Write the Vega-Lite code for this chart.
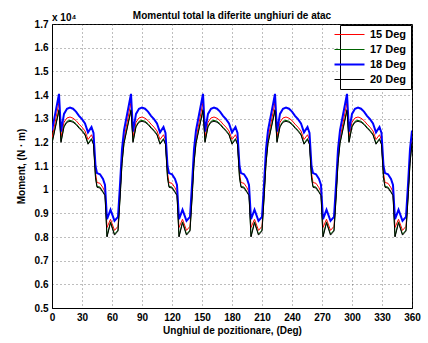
{
  "$schema": "https://vega.github.io/schema/vega-lite/v6.json",
  "width": 360,
  "height": 284,
  "autosize": "none",
  "padding": {"left": 52, "top": 24, "right": 16, "bottom": 35},
  "background": "white",
  "config": {
    "font": "Liberation Sans",
    "view": {"stroke": "black", "strokeWidth": 1},
    "axis": {"labelOverlap": false}
  },
  "title": {
    "text": "Momentul total la diferite unghiuri de atac",
    "fontSize": 10,
    "fontWeight": "bold",
    "font": "Liberation Sans",
    "color": "black",
    "anchor": "middle",
    "offset": -8
  },
  "datasets": {
    "m": [
      {"a": 0, "15 Deg": 12150, "17 Deg": 11990, "18 Deg": 12500, "20 Deg": 11950},
      {"a": 7, "15 Deg": 13700, "17 Deg": 13390, "18 Deg": 14050, "20 Deg": 13350},
      {"a": 9, "15 Deg": 12220, "17 Deg": 12040, "18 Deg": 12450, "20 Deg": 12000},
      {"a": 12, "15 Deg": 12850, "17 Deg": 12690, "18 Deg": 13200, "20 Deg": 12650},
      {"a": 15, "15 Deg": 13030, "17 Deg": 12890, "18 Deg": 13420, "20 Deg": 12850},
      {"a": 18, "15 Deg": 13070, "17 Deg": 12930, "18 Deg": 13470, "20 Deg": 12890},
      {"a": 21, "15 Deg": 13020, "17 Deg": 12890, "18 Deg": 13420, "20 Deg": 12850},
      {"a": 24, "15 Deg": 12920, "17 Deg": 12790, "18 Deg": 13300, "20 Deg": 12750},
      {"a": 27, "15 Deg": 12770, "17 Deg": 12640, "18 Deg": 13120, "20 Deg": 12600},
      {"a": 30, "15 Deg": 12640, "17 Deg": 12510, "18 Deg": 12980, "20 Deg": 12470},
      {"a": 33, "15 Deg": 12480, "17 Deg": 12350, "18 Deg": 12800, "20 Deg": 12310},
      {"a": 36, "15 Deg": 12120, "17 Deg": 11960, "18 Deg": 12420, "20 Deg": 11920},
      {"a": 39.5, "15 Deg": 12320, "17 Deg": 12160, "18 Deg": 12650, "20 Deg": 12120},
      {"a": 41.5, "15 Deg": 12100, "17 Deg": 11940, "18 Deg": 12400, "20 Deg": 11900},
      {"a": 43.5, "15 Deg": 10700, "17 Deg": 10540, "18 Deg": 11000, "20 Deg": 10500},
      {"a": 45, "15 Deg": 10300, "17 Deg": 10140, "18 Deg": 10700, "20 Deg": 10100},
      {"a": 48, "15 Deg": 10270, "17 Deg": 10110, "18 Deg": 10650, "20 Deg": 10070},
      {"a": 51, "15 Deg": 10080, "17 Deg": 9920, "18 Deg": 10450, "20 Deg": 9880},
      {"a": 53, "15 Deg": 9900, "17 Deg": 9790, "18 Deg": 10200, "20 Deg": 9750},
      {"a": 55, "15 Deg": 8400, "17 Deg": 8040, "18 Deg": 8750, "20 Deg": 8000},
      {"a": 58.5, "15 Deg": 8750, "17 Deg": 8640, "18 Deg": 9150, "20 Deg": 8600},
      {"a": 62.5, "15 Deg": 8280, "17 Deg": 8120, "18 Deg": 8680, "20 Deg": 8080},
      {"a": 66, "15 Deg": 8450, "17 Deg": 8290, "18 Deg": 8850, "20 Deg": 8250},
      {"a": 68, "15 Deg": 9800, "17 Deg": 9640, "18 Deg": 10200, "20 Deg": 9600},
      {"a": 70, "15 Deg": 11300, "17 Deg": 11140, "18 Deg": 11700, "20 Deg": 11100},

      {"a": 72, "15 Deg": 12150, "17 Deg": 11990, "18 Deg": 12500, "20 Deg": 11950},
      {"a": 79, "15 Deg": 13700, "17 Deg": 13390, "18 Deg": 14050, "20 Deg": 13350},
      {"a": 81, "15 Deg": 12220, "17 Deg": 12040, "18 Deg": 12450, "20 Deg": 12000},
      {"a": 84, "15 Deg": 12850, "17 Deg": 12690, "18 Deg": 13200, "20 Deg": 12650},
      {"a": 87, "15 Deg": 13030, "17 Deg": 12890, "18 Deg": 13420, "20 Deg": 12850},
      {"a": 90, "15 Deg": 13070, "17 Deg": 12930, "18 Deg": 13470, "20 Deg": 12890},
      {"a": 93, "15 Deg": 13020, "17 Deg": 12890, "18 Deg": 13420, "20 Deg": 12850},
      {"a": 96, "15 Deg": 12920, "17 Deg": 12790, "18 Deg": 13300, "20 Deg": 12750},
      {"a": 99, "15 Deg": 12770, "17 Deg": 12640, "18 Deg": 13120, "20 Deg": 12600},
      {"a": 102, "15 Deg": 12640, "17 Deg": 12510, "18 Deg": 12980, "20 Deg": 12470},
      {"a": 105, "15 Deg": 12480, "17 Deg": 12350, "18 Deg": 12800, "20 Deg": 12310},
      {"a": 108, "15 Deg": 12120, "17 Deg": 11960, "18 Deg": 12420, "20 Deg": 11920},
      {"a": 111.5, "15 Deg": 12320, "17 Deg": 12160, "18 Deg": 12650, "20 Deg": 12120},
      {"a": 113.5, "15 Deg": 12100, "17 Deg": 11940, "18 Deg": 12400, "20 Deg": 11900},
      {"a": 115.5, "15 Deg": 10700, "17 Deg": 10540, "18 Deg": 11000, "20 Deg": 10500},
      {"a": 117, "15 Deg": 10300, "17 Deg": 10140, "18 Deg": 10700, "20 Deg": 10100},
      {"a": 120, "15 Deg": 10270, "17 Deg": 10110, "18 Deg": 10650, "20 Deg": 10070},
      {"a": 123, "15 Deg": 10080, "17 Deg": 9920, "18 Deg": 10450, "20 Deg": 9880},
      {"a": 125, "15 Deg": 9900, "17 Deg": 9790, "18 Deg": 10200, "20 Deg": 9750},
      {"a": 127, "15 Deg": 8400, "17 Deg": 8040, "18 Deg": 8750, "20 Deg": 8000},
      {"a": 130.5, "15 Deg": 8750, "17 Deg": 8640, "18 Deg": 9150, "20 Deg": 8600},
      {"a": 134.5, "15 Deg": 8280, "17 Deg": 8120, "18 Deg": 8680, "20 Deg": 8080},
      {"a": 138, "15 Deg": 8450, "17 Deg": 8290, "18 Deg": 8850, "20 Deg": 8250},
      {"a": 140, "15 Deg": 9800, "17 Deg": 9640, "18 Deg": 10200, "20 Deg": 9600},
      {"a": 142, "15 Deg": 11300, "17 Deg": 11140, "18 Deg": 11700, "20 Deg": 11100},

      {"a": 144, "15 Deg": 12150, "17 Deg": 11990, "18 Deg": 12500, "20 Deg": 11950},
      {"a": 151, "15 Deg": 13700, "17 Deg": 13390, "18 Deg": 14050, "20 Deg": 13350},
      {"a": 153, "15 Deg": 12220, "17 Deg": 12040, "18 Deg": 12450, "20 Deg": 12000},
      {"a": 156, "15 Deg": 12850, "17 Deg": 12690, "18 Deg": 13200, "20 Deg": 12650},
      {"a": 159, "15 Deg": 13030, "17 Deg": 12890, "18 Deg": 13420, "20 Deg": 12850},
      {"a": 162, "15 Deg": 13070, "17 Deg": 12930, "18 Deg": 13470, "20 Deg": 12890},
      {"a": 165, "15 Deg": 13020, "17 Deg": 12890, "18 Deg": 13420, "20 Deg": 12850},
      {"a": 168, "15 Deg": 12920, "17 Deg": 12790, "18 Deg": 13300, "20 Deg": 12750},
      {"a": 171, "15 Deg": 12770, "17 Deg": 12640, "18 Deg": 13120, "20 Deg": 12600},
      {"a": 174, "15 Deg": 12640, "17 Deg": 12510, "18 Deg": 12980, "20 Deg": 12470},
      {"a": 177, "15 Deg": 12480, "17 Deg": 12350, "18 Deg": 12800, "20 Deg": 12310},
      {"a": 180, "15 Deg": 12120, "17 Deg": 11960, "18 Deg": 12420, "20 Deg": 11920},
      {"a": 183.5, "15 Deg": 12320, "17 Deg": 12160, "18 Deg": 12650, "20 Deg": 12120},
      {"a": 185.5, "15 Deg": 12100, "17 Deg": 11940, "18 Deg": 12400, "20 Deg": 11900},
      {"a": 187.5, "15 Deg": 10700, "17 Deg": 10540, "18 Deg": 11000, "20 Deg": 10500},
      {"a": 189, "15 Deg": 10300, "17 Deg": 10140, "18 Deg": 10700, "20 Deg": 10100},
      {"a": 192, "15 Deg": 10270, "17 Deg": 10110, "18 Deg": 10650, "20 Deg": 10070},
      {"a": 195, "15 Deg": 10080, "17 Deg": 9920, "18 Deg": 10450, "20 Deg": 9880},
      {"a": 197, "15 Deg": 9900, "17 Deg": 9790, "18 Deg": 10200, "20 Deg": 9750},
      {"a": 199, "15 Deg": 8400, "17 Deg": 8040, "18 Deg": 8750, "20 Deg": 8000},
      {"a": 202.5, "15 Deg": 8750, "17 Deg": 8640, "18 Deg": 9150, "20 Deg": 8600},
      {"a": 206.5, "15 Deg": 8280, "17 Deg": 8120, "18 Deg": 8680, "20 Deg": 8080},
      {"a": 210, "15 Deg": 8450, "17 Deg": 8290, "18 Deg": 8850, "20 Deg": 8250},
      {"a": 212, "15 Deg": 9800, "17 Deg": 9640, "18 Deg": 10200, "20 Deg": 9600},
      {"a": 214, "15 Deg": 11300, "17 Deg": 11140, "18 Deg": 11700, "20 Deg": 11100},

      {"a": 216, "15 Deg": 12150, "17 Deg": 11990, "18 Deg": 12500, "20 Deg": 11950},
      {"a": 223, "15 Deg": 13700, "17 Deg": 13390, "18 Deg": 14050, "20 Deg": 13350},
      {"a": 225, "15 Deg": 12220, "17 Deg": 12040, "18 Deg": 12450, "20 Deg": 12000},
      {"a": 228, "15 Deg": 12850, "17 Deg": 12690, "18 Deg": 13200, "20 Deg": 12650},
      {"a": 231, "15 Deg": 13030, "17 Deg": 12890, "18 Deg": 13420, "20 Deg": 12850},
      {"a": 234, "15 Deg": 13070, "17 Deg": 12930, "18 Deg": 13470, "20 Deg": 12890},
      {"a": 237, "15 Deg": 13020, "17 Deg": 12890, "18 Deg": 13420, "20 Deg": 12850},
      {"a": 240, "15 Deg": 12920, "17 Deg": 12790, "18 Deg": 13300, "20 Deg": 12750},
      {"a": 243, "15 Deg": 12770, "17 Deg": 12640, "18 Deg": 13120, "20 Deg": 12600},
      {"a": 246, "15 Deg": 12640, "17 Deg": 12510, "18 Deg": 12980, "20 Deg": 12470},
      {"a": 249, "15 Deg": 12480, "17 Deg": 12350, "18 Deg": 12800, "20 Deg": 12310},
      {"a": 252, "15 Deg": 12120, "17 Deg": 11960, "18 Deg": 12420, "20 Deg": 11920},
      {"a": 255.5, "15 Deg": 12320, "17 Deg": 12160, "18 Deg": 12650, "20 Deg": 12120},
      {"a": 257.5, "15 Deg": 12100, "17 Deg": 11940, "18 Deg": 12400, "20 Deg": 11900},
      {"a": 259.5, "15 Deg": 10700, "17 Deg": 10540, "18 Deg": 11000, "20 Deg": 10500},
      {"a": 261, "15 Deg": 10300, "17 Deg": 10140, "18 Deg": 10700, "20 Deg": 10100},
      {"a": 264, "15 Deg": 10270, "17 Deg": 10110, "18 Deg": 10650, "20 Deg": 10070},
      {"a": 267, "15 Deg": 10080, "17 Deg": 9920, "18 Deg": 10450, "20 Deg": 9880},
      {"a": 269, "15 Deg": 9900, "17 Deg": 9790, "18 Deg": 10200, "20 Deg": 9750},
      {"a": 271, "15 Deg": 8400, "17 Deg": 8040, "18 Deg": 8750, "20 Deg": 8000},
      {"a": 274.5, "15 Deg": 8750, "17 Deg": 8640, "18 Deg": 9150, "20 Deg": 8600},
      {"a": 278.5, "15 Deg": 8280, "17 Deg": 8120, "18 Deg": 8680, "20 Deg": 8080},
      {"a": 282, "15 Deg": 8450, "17 Deg": 8290, "18 Deg": 8850, "20 Deg": 8250},
      {"a": 284, "15 Deg": 9800, "17 Deg": 9640, "18 Deg": 10200, "20 Deg": 9600},
      {"a": 286, "15 Deg": 11300, "17 Deg": 11140, "18 Deg": 11700, "20 Deg": 11100},

      {"a": 288, "15 Deg": 12150, "17 Deg": 11990, "18 Deg": 12500, "20 Deg": 11950},
      {"a": 295, "15 Deg": 13700, "17 Deg": 13390, "18 Deg": 14050, "20 Deg": 13350},
      {"a": 297, "15 Deg": 12220, "17 Deg": 12040, "18 Deg": 12450, "20 Deg": 12000},
      {"a": 300, "15 Deg": 12850, "17 Deg": 12690, "18 Deg": 13200, "20 Deg": 12650},
      {"a": 303, "15 Deg": 13030, "17 Deg": 12890, "18 Deg": 13420, "20 Deg": 12850},
      {"a": 306, "15 Deg": 13070, "17 Deg": 12930, "18 Deg": 13470, "20 Deg": 12890},
      {"a": 309, "15 Deg": 13020, "17 Deg": 12890, "18 Deg": 13420, "20 Deg": 12850},
      {"a": 312, "15 Deg": 12920, "17 Deg": 12790, "18 Deg": 13300, "20 Deg": 12750},
      {"a": 315, "15 Deg": 12770, "17 Deg": 12640, "18 Deg": 13120, "20 Deg": 12600},
      {"a": 318, "15 Deg": 12640, "17 Deg": 12510, "18 Deg": 12980, "20 Deg": 12470},
      {"a": 321, "15 Deg": 12480, "17 Deg": 12350, "18 Deg": 12800, "20 Deg": 12310},
      {"a": 324, "15 Deg": 12120, "17 Deg": 11960, "18 Deg": 12420, "20 Deg": 11920},
      {"a": 327.5, "15 Deg": 12320, "17 Deg": 12160, "18 Deg": 12650, "20 Deg": 12120},
      {"a": 329.5, "15 Deg": 12100, "17 Deg": 11940, "18 Deg": 12400, "20 Deg": 11900},
      {"a": 331.5, "15 Deg": 10700, "17 Deg": 10540, "18 Deg": 11000, "20 Deg": 10500},
      {"a": 333, "15 Deg": 10300, "17 Deg": 10140, "18 Deg": 10700, "20 Deg": 10100},
      {"a": 336, "15 Deg": 10270, "17 Deg": 10110, "18 Deg": 10650, "20 Deg": 10070},
      {"a": 339, "15 Deg": 10080, "17 Deg": 9920, "18 Deg": 10450, "20 Deg": 9880},
      {"a": 341, "15 Deg": 9900, "17 Deg": 9790, "18 Deg": 10200, "20 Deg": 9750},
      {"a": 343, "15 Deg": 8400, "17 Deg": 8040, "18 Deg": 8750, "20 Deg": 8000},
      {"a": 346.5, "15 Deg": 8750, "17 Deg": 8640, "18 Deg": 9150, "20 Deg": 8600},
      {"a": 350.5, "15 Deg": 8280, "17 Deg": 8120, "18 Deg": 8680, "20 Deg": 8080},
      {"a": 354, "15 Deg": 8450, "17 Deg": 8290, "18 Deg": 8850, "20 Deg": 8250},
      {"a": 356, "15 Deg": 9800, "17 Deg": 9640, "18 Deg": 10200, "20 Deg": 9600},
      {"a": 358, "15 Deg": 11300, "17 Deg": 11140, "18 Deg": 11700, "20 Deg": 11100},
      {"a": 360, "15 Deg": 12150, "17 Deg": 11990, "18 Deg": 12500, "20 Deg": 11950}
    ]
  },
  "layer": [
    {
      "data": {"name": "m"},
      "transform": [
        {"fold": ["15 Deg", "17 Deg", "18 Deg", "20 Deg"], "as": ["serie", "moment"]}
      ],
      "mark": {"type": "line", "clip": true, "strokeJoin": "miter"},
      "encoding": {
        "x": {
          "field": "a",
          "type": "quantitative",
          "scale": {"domain": [0, 360], "nice": false, "zero": false},
          "axis": {
            "title": "Unghiul de pozitionare, (Deg)",
            "values": [0, 30, 60, 90, 120, 150, 180, 210, 240, 270, 300, 330, 360],
            "tickCount": 20,
            "labelOverlap": false,
            "grid": true,
            "gridDash": [1, 3],
            "gridColor": "#444444",
            "gridOpacity": 0.7,
            "ticks": false,
            "domainColor": "black",
            "labelFont": "Liberation Sans",
            "labelFontSize": 10,
            "labelFontWeight": "bold",
            "labelColor": "black",
            "labelPadding": 4,
            "labelFlush": false,
            "titleFont": "Liberation Sans",
            "titleFontSize": 10,
            "titleFontWeight": "bold",
            "titleColor": "black",
            "titlePadding": 3
          }
        },
        "y": {
          "field": "moment",
          "type": "quantitative",
          "scale": {"domain": [5000, 17000], "nice": false, "zero": false},
          "axis": {
            "title": "Moment, (N · m)",
            "values": [5000, 6000, 7000, 8000, 9000, 10000, 11000, 12000, 13000, 14000, 15000, 16000, 17000],
            "tickCount": 20,
            "labelExpr": "'' + (datum.value / 10000)",
            "labelOverlap": false,
            "grid": true,
            "gridDash": [1, 3],
            "gridColor": "#444444",
            "gridOpacity": 0.7,
            "ticks": false,
            "domainColor": "black",
            "labelFont": "Liberation Sans",
            "labelFontSize": 10,
            "labelFontWeight": "bold",
            "labelColor": "black",
            "labelPadding": 4,
            "labelFlush": false,
            "titleFont": "Liberation Sans",
            "titleFontSize": 10,
            "titleFontWeight": "bold",
            "titleColor": "black",
            "titlePadding": 8
          }
        },
        "color": {
          "field": "serie",
          "type": "nominal",
          "scale": {
            "domain": ["15 Deg", "17 Deg", "18 Deg", "20 Deg"],
            "range": ["#ff0000", "#006400", "#0000ff", "#000000"]
          },
          "legend": {
            "title": null,
            "orient": "top-right",
            "offset": 1,
            "fillColor": "white",
            "strokeColor": "black",
            "padding": 4,
            "symbolType": "M-2.5,0H2.5",
            "symbolSize": 144,
            "symbolStrokeWidth": 1,
            "labelFont": "Liberation Sans",
            "labelFontSize": 11,
            "labelFontWeight": "bold",
            "labelColor": "black",
            "labelOffset": 15,
            "rowPadding": 3,
            "encode": {
              "symbols": {
                "update": {
                  "strokeWidth": {"signal": "datum.value === '18 Deg' ? 2 : 1"}
                }
              }
            }
          }
        },
        "strokeWidth": {
          "condition": {"test": "datum.serie === '18 Deg'", "value": 2},
          "value": 1
        }
      }
    },
    {
      "data": {"values": [{"x": 0, "y": 17000, "t": "x 10⁴"}]},
      "mark": {
        "type": "text",
        "align": "left",
        "baseline": "bottom",
        "dy": -1,
        "font": "Liberation Sans",
        "fontSize": 10,
        "fontWeight": "bold",
        "color": "black"
      },
      "encoding": {
        "x": {"field": "x", "type": "quantitative"},
        "y": {"field": "y", "type": "quantitative"},
        "text": {"field": "t"}
      }
    }
  ]
}
